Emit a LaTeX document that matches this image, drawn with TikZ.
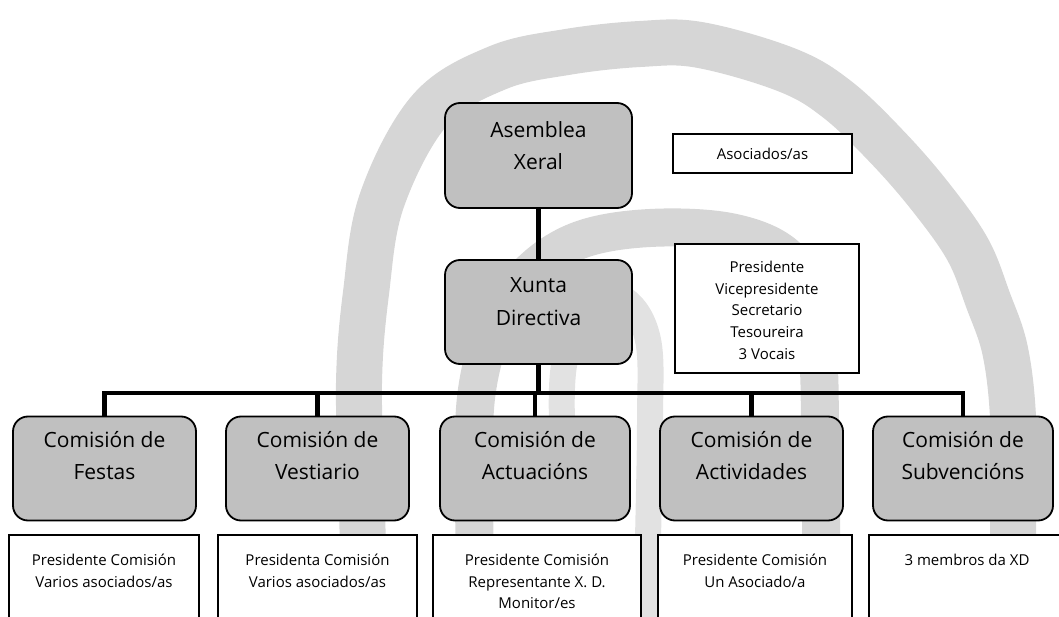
\documentclass[tikz,border=0pt]{standalone}
\usepackage{fontspec}
\setmainfont{Open Sans}
\usepackage{tikz}
\usetikzlibrary{positioning}
\definecolor{boxgray}{RGB}{192,192,192}
\definecolor{markgray}{RGB}{214,214,214}
\definecolor{faintgray}{RGB}{226,226,226}
\newcommand{\bigfont}{\fontsize{21}{32}\selectfont}
\newcommand{\smallfont}{\fontsize{15}{21.5}\selectfont}
% text hung from the top of a box: height, first baseline, lines
\newcommand{\toptext}[3]{\parbox[c][#1][t]{180pt}{\centering\rule{0pt}{#2}#3}}
\tikzset{
    gbox/.style={
        draw, line width=1.8pt, fill=boxgray,
        rounded corners=15pt, inner sep=0pt,
        minimum width=187pt, minimum height=104pt,
        font=\bigfont
    },
    wbox/.style={
        draw, line width=1.6pt, fill=white,
        inner sep=0pt, font=\smallfont
    },
    lowbox/.style={
        wbox, anchor=north, minimum height=100pt
    },
    conn/.style={
        line width=4.5pt, draw=black
    },
    wmark/.style={
        draw=markgray, line width=#1
    }
}

\begin{document}
\begin{tikzpicture}[x=1pt, y=-1pt]
    \useasboundingbox (0,0) rectangle (1059,617);
    \clip (0,0) rectangle (1059,617);

    % watermark
    \draw[wmark=46pt] plot[smooth, tension=0.6] coordinates {(364,640) (362,500) (359,383) (366,293)
        (382,200) (430,110) (497,68) (567,52) (640,44) (700,45) (787,70) (838,100) (890,150)
        (933,200) (968,250) (988,300) (1005,350) (1013,417) (1013,500) (1013,640)};
    \draw[wmark=38pt] plot[smooth, tension=0.6] coordinates {(476,640) (474,480) (477,390) (497,320)
        (530,272) (580,240) (650,228) (730,232) (785,255) (810,300) (818,360) (820,420) (822,640)};
    \draw[wmark=26pt, draw=faintgray] plot[smooth, tension=0.6] coordinates {(562,420) (565,360) (590,300)
        (625,300) (648,340) (650,420) (648,540) (646,640)};

    % upper levels
    \node[gbox, minimum height=105pt] (asemblea) at (538.5,155.5)
        {\toptext{105pt}{35pt}{Asemblea\\Xeral}};
    \node[gbox] (xunta) at (538.5,312)
        {\toptext{104pt}{33pt}{Xunta\\Directiva}};
    \node[wbox, minimum width=179pt, minimum height=39pt] (socios) at (762.5,153.5) {Asociados/as};
    \node[wbox, minimum width=184pt, minimum height=129pt] (cargos) at (767,308.5)
        {\toptext{129pt}{29pt}{Presidente\\Vicepresidente\\Secretario\\Tesoureira\\3 Vocais}};

    % commissions
    \node[gbox, minimum width=183pt] (festas) at (104.5,468.5)
        {\toptext{104pt}{31pt}{Comisión de\\Festas}};
    \node[gbox, minimum width=183pt] (vestiario) at (317.5,468.5)
        {\toptext{104pt}{31pt}{Comisión de\\Vestiario}};
    \node[gbox, minimum width=190pt] (actuacions) at (535,468.5)
        {\toptext{104pt}{31pt}{Comisión de\\Actuacións}};
    \node[gbox, minimum width=183pt] (actividades) at (751.5,468.5)
        {\toptext{104pt}{31pt}{Comisión de\\Actividades}};
    \node[gbox, minimum width=178pt] (subvencions) at (963,468.5)
        {\toptext{104pt}{31pt}{Comisión de\\Subvencións}};

    % members of each commission
    \node[lowbox, minimum width=190pt] (m-festas) at (104,534)
        {\toptext{100pt}{31pt}{Presidente Comisión\\Varios asociados/as}};
    \node[lowbox, minimum width=199pt] (m-vestiario) at (317.5,534)
        {\toptext{100pt}{31pt}{Presidenta Comisión\\Varios asociados/as}};
    \node[lowbox, minimum width=208pt] (m-actuacions) at (537,534)
        {\toptext{100pt}{31pt}{Presidente Comisión\\Representante X. D.\\Monitor/es}};
    \node[lowbox, minimum width=194pt] (m-actividades) at (755,534)
        {\toptext{100pt}{31pt}{Presidente Comisión\\Un Asociado/a}};
    \node[lowbox, minimum width=196pt] (m-subvencions) at (967,534)
        {\toptext{100pt}{31pt}{3 membros da XD}};

    % connectors
    \coordinate (bus) at (538.5,393);
    \draw[conn] (asemblea) -- (xunta);
    \draw[conn] (xunta.south) -- (bus);
    \foreach \c in {festas, vestiario, actuacions, actividades, subvencions}
        \draw[conn] (\c.north) |- (bus);
\end{tikzpicture}
\end{document}
